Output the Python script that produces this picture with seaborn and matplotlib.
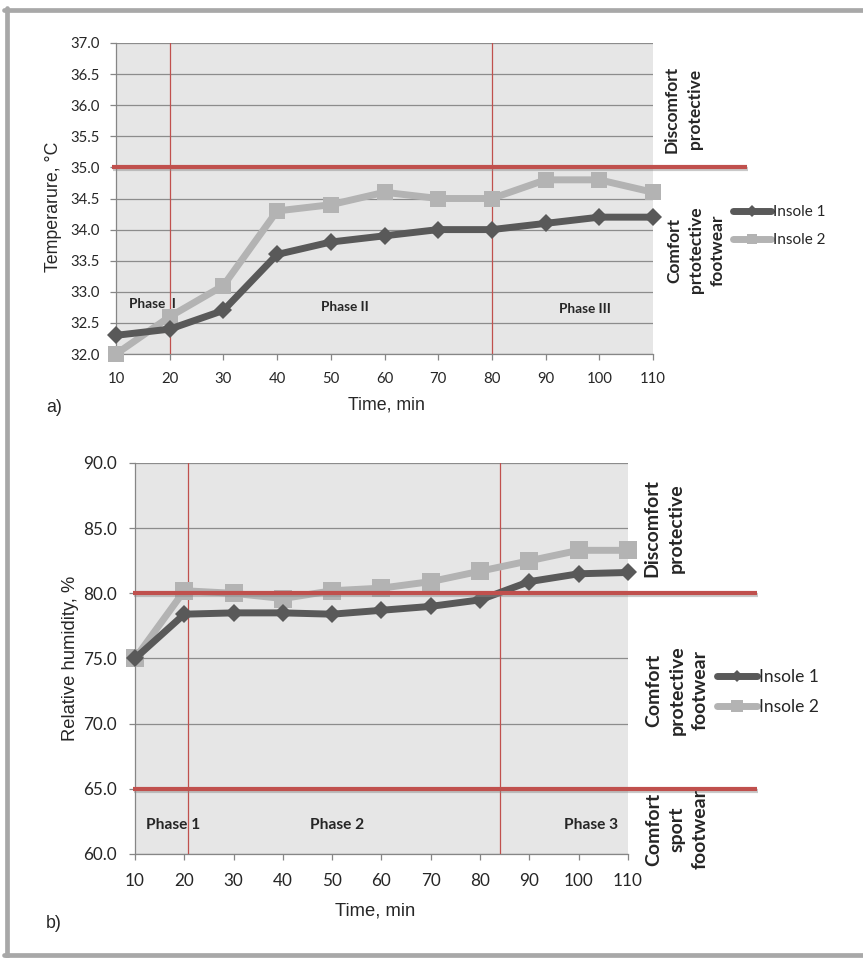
import numpy as np
import pandas as pd
import matplotlib
matplotlib.use("Agg")
import matplotlib.pyplot as plt
import matplotlib.patheffects as pe
import matplotlib.transforms as mtransforms
from matplotlib.lines import Line2D
import seaborn as sns

# ---------------- data ----------------
time_min = [10, 20, 30, 40, 50, 60, 70, 80, 90, 100, 110]
series_labels = ["Insole 1", "Insole 2"]
temp_insole1 = [32.3, 32.4, 32.7, 33.6, 33.8, 33.9, 34.0, 34.0, 34.1, 34.2, 34.2]
temp_insole2 = [32.0, 32.6, 33.1, 34.3, 34.4, 34.6, 34.5, 34.5, 34.8, 34.8, 34.6]
hum_insole1 = [75.0, 78.4, 78.5, 78.5, 78.4, 78.7, 79.0, 79.5, 80.9, 81.5, 81.6]
hum_insole2 = [75.0, 80.2, 80.0, 79.6, 80.2, 80.4, 80.9, 81.7, 82.5, 83.3, 83.3]

temp_yticks = [32.0, 32.5, 33.0, 33.5, 34.0, 34.5, 35.0, 35.5, 36.0, 36.5, 37.0]
hum_yticks = [60.0, 65.0, 70.0, 75.0, 80.0, 85.0, 90.0]

temp_thresholds = [35.0]
hum_thresholds = [80.0, 65.0]
temp_phase_bounds = [20, 80]
hum_phase_bounds = [20.8, 84]
temp_phase_labels = ["Phase  I", "Phase II", "Phase III"]
hum_phase_labels = ["Phase 1", "Phase 2", "Phase 3"]
temp_zone_labels = ["Discomfort\nprotective", "Comfort\nprtotective\nfootwear"]
hum_zone_labels = ["Discomfort\nprotective", "Comfort\nprotective\nfootwear",
                   "Comfort\nsport\nfootwear"]
xlabel = "Time, min"
temp_ylabel = "Temperarure, \u00b0C"
hum_ylabel = "Relative humidity, %"
panel_labels = ["a)", "b)"]

# ---------------- style ----------------
W, H = 863, 958
sns.set_style("white", {"axes.facecolor": "#e6e6e6"})
plt.rcParams["font.family"] = ["Lato", "DejaVu Sans"]

C1 = "#595959"
C2 = "#b3b3b3"
RED = "#c0504d"
GRID = "#8c8c8c"
SPINE = "#868686"

fig = plt.figure(figsize=(W / 100, H / 100), dpi=100)


def px(x, y):
    return x / W, 1 - y / H


def axes_rect(l, t, r, b):
    return [l / W, 1 - b / H, (r - l) / W, (b - t) / H]


ax1 = fig.add_axes(axes_rect(116, 43, 653, 354))
ax2 = fig.add_axes(axes_rect(135, 463, 628, 854))

df_t = pd.DataFrame({"time": time_min * 2,
                     "value": temp_insole1 + temp_insole2,
                     "series": [series_labels[0]] * len(time_min) + [series_labels[1]] * len(time_min)})
df_h = pd.DataFrame({"time": time_min * 2,
                     "value": hum_insole1 + hum_insole2,
                     "series": [series_labels[0]] * len(time_min) + [series_labels[1]] * len(time_min)})


def style_axes(ax, yticks, tick_fs, ypad, xpad):
    ax.set_xlim(time_min[0], time_min[-1])
    ax.set_ylim(yticks[0], yticks[-1])
    ax.set_yticks(yticks)
    ax.set_xticks(time_min)
    ax.set_yticklabels([f"{v:.1f}" for v in yticks])
    ax.set_xticklabels([str(t) for t in time_min])
    for s in ["top", "right"]:
        ax.spines[s].set_visible(False)
    for s in ["left", "bottom"]:
        ax.spines[s].set_color(SPINE)
        ax.spines[s].set_linewidth(0.9)
    ax.yaxis.grid(True, color=GRID, linewidth=0.9)
    ax.xaxis.grid(False)
    ax.set_axisbelow(True)
    ax.tick_params(axis="y", direction="out", length=4, width=0.9, color=SPINE,
                   labelsize=tick_fs, pad=ypad, left=True)
    ax.tick_params(axis="x", direction="out", length=4, width=0.9, color=SPINE,
                   labelsize=tick_fs, pad=xpad, bottom=True)
    ax.set_xlabel("")
    ax.set_ylabel("")


def draw_series(ax, df, lw, ms_d, ms_s):
    sub1 = df[df.series == series_labels[0]]
    sub2 = df[df.series == series_labels[1]]
    sns.lineplot(data=sub1, x="time", y="value", ax=ax, color=C1, linewidth=lw,
                 marker="D", markersize=ms_d, markeredgewidth=0, label=series_labels[0],
                 clip_on=False, zorder=5)
    sns.lineplot(data=sub2, x="time", y="value", ax=ax, color=C2, linewidth=lw,
                 marker="s", markersize=ms_s, markeredgewidth=0, label=series_labels[1],
                 clip_on=False, zorder=4)


shadow = [pe.SimpleLineShadow(offset=(0.8, -1.2), shadow_color="#888888", alpha=0.45),
          pe.Normal()]


def red_hline(ax, y, x0, x1):
    tr = mtransforms.blended_transform_factory(ax.transAxes, ax.transData)
    ax.plot([x0, x1], [y, y], transform=tr, color=RED, linewidth=3.0,
            clip_on=False, zorder=6, path_effects=shadow, solid_capstyle="butt")


# ---- panel a ----
draw_series(ax1, df_t, 5.0, 9.5, 11.5)
style_axes(ax1, temp_yticks, 10.7, 8, 9)
for xb in temp_phase_bounds:
    ax1.axvline(xb, color=RED, linewidth=0.9, zorder=3)
for yv in temp_thresholds:
    red_hline(ax1, yv, -0.0075, 1.175)
for lab, (xx, yy) in zip(temp_phase_labels, [(16.7, 32.8), (52.6, 32.76), (97.3, 32.72)]):
    ax1.text(xx, yy, lab, ha="center", va="center", fontsize=9.8, fontweight="bold", zorder=7)
leg1 = ax1.legend(loc="center left", bbox_to_anchor=px(733, 226), bbox_transform=fig.transFigure,
                  frameon=False, fontsize=11, handlelength=2.5, handletextpad=0.15,
                  labelspacing=0.9, borderpad=0, borderaxespad=0, markerscale=0.65)

# ---- panel b ----
draw_series(ax2, df_h, 5.0, 9.0, 12.5)
style_axes(ax2, hum_yticks, 12.3, 9, 10)
for xb in hum_phase_bounds:
    ax2.axvline(xb, color=RED, linewidth=0.9, zorder=3)
for yv in hum_thresholds:
    red_hline(ax2, yv, -0.004, 1.262)
for lab, (xx, yy) in zip(hum_phase_labels, [(17.7, 62.2), (51.1, 62.2), (102.5, 62.2)]):
    ax2.text(xx, yy, lab, ha="center", va="center", fontsize=11.2, fontweight="bold", zorder=7)
leg2 = ax2.legend(loc="center left", bbox_to_anchor=px(717, 692), bbox_transform=fig.transFigure,
                  frameon=False, fontsize=12.5, handlelength=2.3, handletextpad=0.1,
                  labelspacing=0.85, borderpad=0, borderaxespad=0, markerscale=0.65)

# ---- zone labels (rotated) ----
zone_kw = dict(rotation=90, ha="center", va="center", multialignment="center",
               fontweight="bold")
fig.text(*px(683, 109), temp_zone_labels[0], fontsize=12.5, linespacing=1.56, **zone_kw)
fig.text(*px(696, 250), temp_zone_labels[1], fontsize=12.5, linespacing=1.4, **zone_kw)
fig.text(*px(664, 528), hum_zone_labels[0], fontsize=14, linespacing=1.5, **zone_kw)
fig.text(*px(677, 690), hum_zone_labels[1], fontsize=14, linespacing=1.45, **zone_kw)
fig.text(*px(677, 829), hum_zone_labels[2], fontsize=14, linespacing=1.45, **zone_kw)

# ---- axis labels ----
arial = ["Liberation Sans", "DejaVu Sans"]
fig.text(*px(54, 207), temp_ylabel, rotation=90, ha="center", va="center",
         fontsize=12.8, family=arial)
fig.text(*px(386, 405), xlabel, ha="center", va="center", fontsize=12.8, family=arial)
fig.text(*px(54, 408), panel_labels[0], ha="center", va="center", fontsize=12.8, family=arial)
fig.text(*px(70, 658), hum_ylabel, rotation=90, ha="center", va="center",
         fontsize=13.2, family=arial)
fig.text(*px(375, 911), xlabel, ha="center", va="center", fontsize=13.2, family=arial)
fig.text(*px(54, 923), panel_labels[1], ha="center", va="center", fontsize=12.8, family=arial)

# ---- outer frame ----
FRAME = "#a8a8a8"
for (xa, ya), (xb, yb) in [((6.5, 8), (6.5, 956)), ((4, 10), (863, 10)), ((4, 955), (863, 955))]:
    fig.add_artist(Line2D([xa / W, xb / W], [1 - ya / H, 1 - yb / H],
                          transform=fig.transFigure, color=FRAME, linewidth=3.4))

fig.savefig("out.png", dpi=100)
